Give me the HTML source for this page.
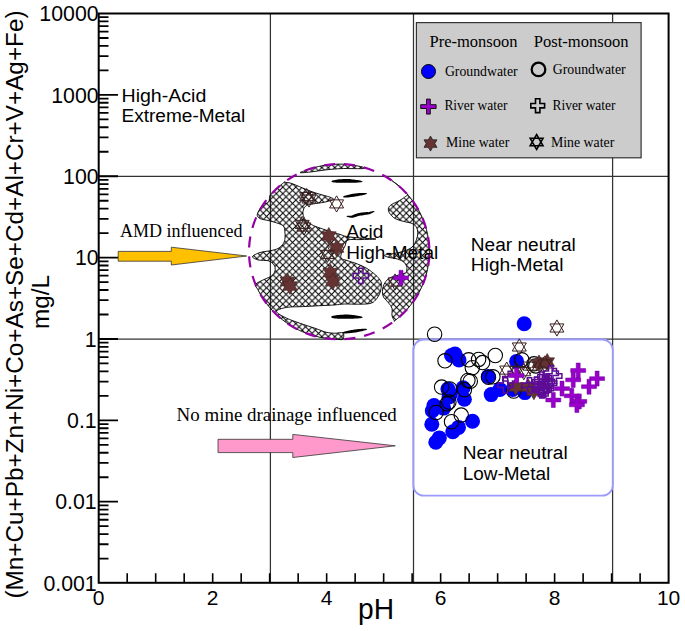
<!DOCTYPE html><html><head><meta charset="utf-8"><style>html,body{margin:0;padding:0;background:#fff;overflow:hidden}svg{display:block}</style></head><body>
<svg width="685" height="631" viewBox="0 0 685 631">
<defs><pattern id="hx" patternUnits="userSpaceOnUse" width="6.5" height="6.5" x="3.3" y="5.1"><path d="M-0.8,-0.8L7.3,7.3M7.3,-0.8L-0.8,7.3" stroke="#000" stroke-width="1.0" fill="none"/></pattern><path id="os" d="M0,-8.1L7.0,4.05L-7.0,4.05ZM0,8.1L7.0,-4.05L-7.0,-4.05Z" fill="none" stroke="#3a1f1f" stroke-width="1.0"/><path id="fs" d="M0,-8.5L2.45,-4.25L7.36,-4.25L4.9,0L7.36,4.25L2.45,4.25L0,8.5L-2.45,4.25L-7.36,4.25L-4.9,0L-7.36,-4.25L-2.45,-4.25Z" fill="#663333" stroke="#3d1f1f" stroke-width="0.6"/><path id="fc" d="M-2,-7.5H2V-1.9H7.5V1.9H2V7.5H-2V1.9H-7.5V-1.9H-2Z" fill="#9900cc" stroke="#6a0099" stroke-width="0.5"/><path id="oc" d="M-2.2,-7.6H2.2V-2.2H7.6V2.2H2.2V7.6H-2.2V2.2H-7.6V-2.2H-2.2Z" fill="none" stroke="#5e0c96" stroke-width="1.5"/><circle id="fb" r="7.5" fill="#0000ff"/><circle id="ob" r="7.2" fill="none" stroke="#000" stroke-width="1.1"/></defs>
<rect width="685" height="631" fill="#fff"/>
<line x1="270.4" y1="13.5" x2="270.4" y2="582.8" stroke="#333" stroke-width="1.25"/>
<line x1="413.5" y1="13.5" x2="413.5" y2="582.8" stroke="#333" stroke-width="1.25"/>
<line x1="612.6" y1="13.5" x2="612.6" y2="582.8" stroke="#333" stroke-width="1.25"/>
<line x1="98.7" y1="176.3" x2="668.6" y2="176.3" stroke="#333" stroke-width="1.25"/>
<line x1="98.7" y1="339.0" x2="668.6" y2="339.0" stroke="#333" stroke-width="1.25"/>
<path d="M285.0,182.2C286.0,182.5 288.2,182.4 291.1,183.3C294.0,184.2 298.5,186.3 302.2,187.8C305.9,189.3 309.6,190.9 313.3,192.2C317.0,193.5 321.6,194.7 324.4,195.5C327.2,196.3 328.5,196.5 330.0,197.2C331.5,197.9 334.4,198.7 333.5,199.5C332.6,200.3 327.8,201.5 324.4,202.2C321.0,202.9 316.3,203.3 313.3,203.9C310.3,204.5 308.3,204.5 306.6,205.5C304.9,206.5 303.9,208.3 303.3,210.0C302.8,211.7 302.8,213.7 303.3,215.5C303.9,217.3 304.9,219.3 306.6,221.0C308.3,222.7 310.7,224.2 313.3,225.5C315.9,226.8 319.6,227.9 322.2,228.8C324.8,229.7 325.8,230.1 328.8,231.0C331.8,231.9 337.0,233.5 340.0,234.4C343.0,235.3 343.3,235.9 346.6,236.5C349.9,237.1 355.1,237.6 360.0,238.0C364.9,238.4 376.0,238.7 376.0,239.0C376.0,239.3 364.7,239.4 360.0,239.6C355.3,239.8 350.5,238.9 348.0,240.0C345.5,241.1 346.0,244.0 345.0,246.0C344.0,248.0 342.7,250.0 342.0,252.0C341.3,254.0 340.2,256.6 341.0,258.0C341.8,259.4 344.2,259.5 347.0,260.5C349.8,261.5 354.2,262.7 357.5,264.0C360.8,265.3 364.0,266.7 367.0,268.5C370.0,270.3 373.4,273.1 375.6,275.0C377.8,276.9 379.0,278.5 380.0,280.0C381.0,281.5 381.4,282.1 381.4,284.2C381.4,286.3 381.0,290.2 380.0,292.8C379.0,295.4 377.3,298.2 375.6,300.0C373.9,301.8 372.9,302.8 370.0,303.5C367.1,304.2 362.8,304.1 358.5,304.2C354.2,304.3 348.2,303.9 344.3,304.0C340.4,304.1 339.1,304.6 335.0,304.9C330.9,305.2 325.2,305.4 319.9,305.7C314.6,306.0 308.8,306.3 303.2,306.6C297.6,306.9 291.0,306.6 286.6,307.4C282.2,308.2 276.6,309.7 276.6,311.5C276.6,313.3 282.7,316.2 286.6,318.2C290.5,320.1 295.2,321.5 299.9,323.2C304.6,324.9 310.5,326.7 314.9,328.2C319.3,329.7 323.1,331.5 326.5,332.3C329.9,333.1 332.2,333.1 335.0,333.2C337.8,333.3 341.7,332.0 343.0,333.0C344.3,334.0 343.9,338.2 343.0,339.2C342.1,340.3 339.3,339.3 337.4,339.3C335.6,339.2 333.7,339.2 331.9,339.0C330.1,338.9 328.2,338.7 326.4,338.4C324.5,338.2 322.7,337.8 320.9,337.5C319.1,337.1 317.3,336.7 315.5,336.2C313.7,335.8 312.0,335.2 310.2,334.6C308.4,334.1 306.7,333.4 305.0,332.8C303.3,332.1 301.6,331.3 299.9,330.6C298.3,329.8 296.6,328.9 295.0,328.1C293.4,327.2 291.8,326.3 290.3,325.3C288.7,324.3 287.2,323.3 285.7,322.2C284.2,321.1 282.7,320.0 281.3,318.9C279.9,317.7 278.5,316.5 277.2,315.3C275.8,314.1 274.5,312.8 273.3,311.5C272.0,310.2 270.8,308.8 269.6,307.4C268.4,306.0 267.3,304.6 266.2,303.1C265.1,301.7 264.1,300.2 263.1,298.7C262.1,297.2 261.1,295.6 260.2,294.1C259.3,292.5 258.5,290.9 257.7,289.3C256.9,287.6 254.3,286.0 255.5,284.3C256.7,282.6 262.3,280.5 265.0,279.1C267.7,277.7 269.9,277.2 271.6,275.8C273.3,274.4 274.6,272.6 275.0,270.8C275.4,269.0 275.2,266.7 274.1,265.0C273.0,263.3 270.9,261.6 268.3,260.8C265.7,260.0 260.9,260.7 258.3,260.0C255.7,259.3 252.2,257.9 252.5,256.6C252.8,255.4 257.1,253.5 260.0,252.5C262.9,251.5 266.9,251.5 270.0,250.8C273.1,250.1 276.1,249.6 278.3,248.3C280.6,247.1 282.4,245.0 283.5,243.3C284.6,241.6 284.8,240.0 285.0,238.0C285.2,236.0 285.1,233.2 284.8,231.3C284.6,229.4 284.6,227.6 283.5,226.3C282.4,225.0 281.0,224.4 278.5,223.5C276.0,222.6 271.6,221.4 268.5,220.6C265.4,219.8 261.9,219.6 260.0,218.5C258.1,217.4 256.8,216.4 257.3,214.2C257.8,211.9 260.9,207.0 262.8,205.0C264.7,203.0 267.3,203.6 268.5,202.1C269.7,200.6 269.3,197.2 269.8,195.8C270.2,194.4 270.9,194.5 271.4,193.9C272.0,193.2 272.6,192.6 273.2,192.0C273.8,191.4 274.4,190.8 275.0,190.2C275.6,189.6 276.2,189.0 276.9,188.4C277.5,187.8 278.1,187.2 278.8,186.6C279.4,186.1 280.1,185.5 280.8,185.0C281.4,184.4 282.1,183.9 282.8,183.4C283.5,182.8 284.5,182.0 284.8,181.8C285.2,181.6 284.0,181.9 285.0,182.2Z" fill="url(#hx)" stroke="#000" stroke-width="0.9" />
<path d="M392.5,181.0C392.9,181.3 394.3,182.4 395.2,183.1C396.1,183.7 397.0,184.5 397.9,185.2C398.8,185.9 399.7,186.7 400.5,187.4C401.3,188.2 402.2,189.0 403.0,189.8C403.8,190.6 404.6,191.4 405.4,192.2C406.2,193.0 407.7,194.0 407.7,194.7C407.8,195.4 407.1,195.4 405.7,196.4C404.3,197.4 401.6,199.4 399.3,200.7C397.0,202.0 393.9,203.0 392.1,204.2C390.3,205.4 389.1,206.4 388.6,207.8C388.1,209.2 388.2,211.0 389.3,212.8C390.4,214.6 392.6,217.1 395.0,218.5C397.4,219.9 400.6,220.6 403.5,221.4C406.4,222.2 410.0,222.6 412.1,223.5C414.2,224.4 415.4,225.5 416.4,227.1C417.3,228.7 417.8,230.7 417.8,232.8C417.8,234.9 417.3,237.5 416.4,239.9C415.4,242.3 414.2,245.1 412.1,247.0C410.0,248.9 406.6,250.2 403.5,251.3C400.4,252.4 396.7,252.8 393.5,253.5C390.3,254.2 385.1,254.6 384.4,255.3C383.6,256.0 387.1,256.9 389.0,257.5C390.9,258.1 393.7,257.9 396.0,258.6C398.3,259.3 401.2,260.2 403.0,261.5C404.8,262.8 406.0,264.6 406.6,266.2C407.2,267.8 406.8,269.8 406.6,270.9C406.4,272.0 407.0,272.1 405.6,272.8C404.2,273.5 401.1,274.2 398.5,275.0C395.9,275.8 392.3,276.5 390.0,277.8C387.7,279.1 386.1,280.8 384.9,282.8C383.6,284.8 382.7,287.6 382.5,290.0C382.3,292.4 382.5,294.9 383.5,297.0C384.5,299.1 387.1,300.9 388.5,302.8C389.9,304.7 391.4,306.4 392.0,308.5C392.6,310.6 391.6,313.6 392.0,315.6C392.4,317.6 393.8,319.7 394.2,320.6C394.6,321.5 393.5,321.6 394.2,321.1C394.9,320.6 397.1,318.9 398.5,317.7C399.9,316.5 401.3,315.3 402.6,314.0C403.9,312.7 405.2,311.4 406.4,310.1C407.7,308.7 408.9,307.4 410.0,305.9C411.2,304.5 412.3,303.1 413.3,301.6C414.4,300.1 415.4,298.6 416.4,297.0C417.3,295.5 418.3,293.9 419.1,292.3C420.0,290.7 420.8,289.1 421.5,287.5C422.3,285.8 423.0,284.1 423.7,282.5C424.3,280.8 424.9,279.1 425.5,277.3C426.0,275.6 426.5,273.9 426.9,272.1C427.4,270.4 427.7,268.6 428.0,266.8C428.4,265.0 428.6,263.2 428.8,261.4C429.0,259.7 429.2,257.9 429.3,256.1C429.4,254.3 429.4,252.4 429.4,250.6C429.4,248.8 429.3,247.0 429.2,245.2C429.0,243.4 428.8,241.6 428.6,239.9C428.3,238.1 428.0,236.3 427.6,234.5C427.3,232.7 426.9,231.0 426.4,229.2C425.9,227.5 425.4,225.8 424.8,224.1C424.2,222.3 423.6,220.6 422.9,219.0C422.2,217.3 421.4,215.6 420.6,214.0C419.8,212.4 419.0,210.8 418.1,209.2C417.2,207.6 416.2,206.1 415.2,204.6C414.2,203.0 413.2,201.5 412.1,200.1C411.0,198.6 409.8,197.2 408.7,195.8C407.5,194.4 406.2,193.1 405.0,191.8C403.7,190.4 402.4,189.2 401.0,187.9C399.7,186.7 398.3,185.5 396.9,184.3C395.4,183.2 393.2,181.6 392.5,181.0C391.7,180.5 392.0,180.7 392.5,181.0Z" fill="url(#hx)" stroke="#000" stroke-width="0.9" />
<path d="M300.2,172.7C299.2,172.5 304.1,171.0 306.1,170.2C308.1,169.5 310.1,168.8 312.1,168.1C314.2,167.5 316.3,167.0 318.4,166.5C320.4,166.0 322.6,165.6 324.7,165.2C326.8,164.9 328.9,164.6 331.1,164.5C333.2,164.3 335.4,164.2 337.5,164.1C339.6,164.1 341.8,164.1 343.9,164.2C346.1,164.3 348.2,164.5 350.4,164.8C352.5,165.0 354.6,165.4 356.7,165.8C358.8,166.2 362.0,166.7 363.0,167.2C364.0,167.7 365.0,168.4 363.0,168.6C361.0,168.8 354.7,168.6 351.0,168.6C347.3,168.6 345.1,168.4 341.0,168.6C336.9,168.8 331.4,169.3 326.5,169.8C321.6,170.3 316.3,171.3 311.9,171.8C307.5,172.3 301.1,173.0 300.2,172.7Z" fill="url(#hx)" stroke="#000" stroke-width="0.9" />
<path d="M331.20,181.40L332.55,182.21L333.88,182.46L335.20,182.62L336.53,182.73L337.85,182.80L339.17,182.85L340.49,182.87L341.81,182.87L343.13,182.85L344.44,182.82L345.76,182.76L346.91,182.70L348.23,182.73L349.54,182.76L350.86,182.76L352.18,182.76L353.50,182.74L354.83,182.70L356.15,182.65L357.47,182.58L358.80,182.49L360.12,182.37L361.45,182.19L362.80,181.60L362.80,181.60L361.52,180.88L360.21,180.56L358.91,180.31L357.60,180.08L356.29,179.88L354.98,179.70L353.67,179.53L352.36,179.38L351.04,179.24L349.73,179.11L348.42,179.00L347.10,178.90L345.61,178.93L344.30,178.98L342.98,179.05L341.67,179.13L340.35,179.23L339.04,179.35L337.72,179.50L336.41,179.67L335.10,179.88L333.79,180.14L332.48,180.49L331.20,181.40Z" fill="#000"/>
<path d="M342.80,197.00L343.92,197.48L344.98,197.54L346.02,197.53L347.06,197.49L348.10,197.42L349.13,197.33L350.16,197.22L351.18,197.10L352.21,196.96L353.23,196.81L354.25,196.65L355.21,196.48L356.23,196.33L357.25,196.17L358.27,196.00L359.29,195.81L360.30,195.62L361.32,195.41L362.33,195.19L363.34,194.95L364.35,194.69L365.35,194.41L366.35,194.07L367.30,193.40L367.30,193.40L366.21,192.99L365.16,192.92L364.11,192.91L363.07,192.92L362.04,192.95L361.00,192.99L359.97,193.05L358.94,193.12L357.91,193.20L356.88,193.29L355.85,193.39L354.83,193.51L353.76,193.68L352.74,193.85L351.73,194.03L350.71,194.23L349.70,194.44L348.69,194.67L347.69,194.91L346.68,195.18L345.69,195.47L344.69,195.79L343.71,196.19L342.80,197.00Z" fill="#000"/>
<path d="M346.30,216.30L347.47,217.01L348.66,217.33L349.87,217.59L351.08,217.82L352.78,217.79L353.95,217.44L355.12,217.08L356.29,216.70L357.45,216.31L358.35,216.00L359.56,215.81L360.76,215.61L361.97,215.40L363.17,215.17L364.26,214.97L365.47,214.82L366.69,214.67L367.90,214.50L369.39,214.26L370.51,213.76L371.63,213.25L372.73,212.71L373.82,212.12L374.80,211.20L374.80,211.20L373.46,211.08L372.24,211.28L371.04,211.54L369.84,211.82L368.65,212.13L367.71,212.09L366.48,212.12L365.26,212.16L364.04,212.21L362.71,212.38L361.50,212.56L360.29,212.75L359.08,212.95L357.88,213.16L356.47,213.65L355.34,214.10L354.20,214.57L353.08,215.05L351.96,215.54L351.27,215.63L350.04,215.65L348.81,215.69L347.57,215.80L346.30,216.30Z" fill="#000"/>
<path d="M330.90,317.10L332.26,318.01L333.61,318.30L334.95,318.49L336.29,318.62L337.62,318.72L338.96,318.78L340.30,318.82L341.63,318.83L342.97,318.83L344.30,318.80L345.64,318.76L346.97,318.70L348.15,318.72L349.48,318.73L350.82,318.72L352.15,318.70L353.49,318.66L354.83,318.61L356.17,318.54L357.51,318.45L358.85,318.33L360.19,318.18L361.54,317.97L362.90,317.30L362.90,317.30L361.60,316.52L360.28,316.18L358.95,315.92L357.63,315.68L356.30,315.48L354.98,315.29L353.65,315.12L352.32,314.96L350.99,314.82L349.66,314.70L348.33,314.59L346.84,314.50L345.50,314.53L344.17,314.57L342.84,314.63L341.51,314.70L340.17,314.80L338.84,314.92L337.51,315.07L336.18,315.24L334.85,315.46L333.53,315.73L332.20,316.10L330.90,317.10Z" fill="#000"/>
<path d="M341.90,332.90L343.05,333.37L344.14,333.43L345.22,333.44L346.30,333.41L347.37,333.35L348.44,333.28L349.51,333.19L350.57,333.09L351.64,332.97L352.70,332.84L353.76,332.70L354.82,332.54L355.87,332.38L356.93,332.20L357.98,332.01L359.03,331.81L360.08,331.59L361.13,331.37L362.18,331.13L363.22,330.87L364.26,330.59L365.30,330.28L366.32,329.92L367.30,329.20L367.30,329.20L366.16,328.79L365.07,328.74L363.99,328.74L362.91,328.77L361.84,328.82L360.77,328.89L359.70,328.97L358.63,329.07L357.57,329.18L356.51,329.30L355.44,329.43L354.39,329.57L353.33,329.73L352.27,329.89L351.22,330.07L350.16,330.26L349.11,330.46L348.06,330.68L347.01,330.91L345.97,331.16L344.93,331.44L343.89,331.75L342.87,332.13L341.90,332.90Z" fill="#000"/>
<ellipse cx="339.2" cy="251.7" rx="90.2" ry="87.6" fill="none" stroke="#9400a4" stroke-width="2.2" stroke-dasharray="11 9" stroke-dashoffset="16.9"/>
<rect x="413.3" y="339.5" width="199.5" height="156.2" rx="10.5" ry="10.5" fill="none" stroke="#9a9aff" stroke-width="1.8"/>
<rect x="98.7" y="13.5" width="569.9" height="569.3" fill="none" stroke="#000" stroke-width="2"/>
<path d="M98.7,558.60H108.5M98.7,544.27H108.5M98.7,534.10H108.5M98.7,526.21H108.5M98.7,519.77H108.5M98.7,514.32H108.5M98.7,509.61H108.5M98.7,505.44H108.5M98.7,501.72H118.0M98.7,477.23H108.5M98.7,462.90H108.5M98.7,452.73H108.5M98.7,444.84H108.5M98.7,438.40H108.5M98.7,432.95H108.5M98.7,428.24H108.5M98.7,424.07H108.5M98.7,420.35H118.0M98.7,395.86H108.5M98.7,381.53H108.5M98.7,371.36H108.5M98.7,363.47H108.5M98.7,357.03H108.5M98.7,351.58H108.5M98.7,346.87H108.5M98.7,342.70H108.5M98.7,338.98H118.0M98.7,314.49H108.5M98.7,300.16H108.5M98.7,289.99H108.5M98.7,282.10H108.5M98.7,275.66H108.5M98.7,270.21H108.5M98.7,265.50H108.5M98.7,261.33H108.5M98.7,257.61H118.0M98.7,233.12H108.5M98.7,218.79H108.5M98.7,208.62H108.5M98.7,200.73H108.5M98.7,194.29H108.5M98.7,188.84H108.5M98.7,184.13H108.5M98.7,179.96H108.5M98.7,176.24H118.0M98.7,151.75H108.5M98.7,137.42H108.5M98.7,127.25H108.5M98.7,119.36H108.5M98.7,112.92H108.5M98.7,107.47H108.5M98.7,102.76H108.5M98.7,98.59H108.5M98.7,94.87H118.0M98.7,70.38H108.5M98.7,56.05H108.5M98.7,45.88H108.5M98.7,37.99H108.5M98.7,31.55H108.5M98.7,26.10H108.5M98.7,21.39H108.5M98.7,17.22H108.5" stroke="#000" stroke-width="1.8" fill="none"/>
<path d="M127.19,582.8V573.3M155.69,582.8V573.3M184.19,582.8V573.3M212.68,582.8V573.3M241.18,582.8V573.3M269.67,582.8V573.3M298.16,582.8V573.3M326.66,582.8V573.3M355.15,582.8V573.3M383.65,582.8V573.3M412.14,582.8V573.3M440.64,582.8V573.3M469.13,582.8V573.3M497.63,582.8V573.3M526.12,582.8V573.3M554.62,582.8V573.3M583.12,582.8V573.3M611.61,582.8V573.3M640.11,582.8V573.3" stroke="#000" stroke-width="1.6" fill="none"/>
<text x="98.6" y="21.1" font-family="Liberation Sans" font-size="21.3" text-anchor="end">10000</text>
<text x="98.6" y="102.5" font-family="Liberation Sans" font-size="21.3" text-anchor="end">1000</text>
<text x="98.6" y="183.8" font-family="Liberation Sans" font-size="21.3" text-anchor="end">100</text>
<text x="98.6" y="265.2" font-family="Liberation Sans" font-size="21.3" text-anchor="end">10</text>
<text x="96.7" y="346.6" font-family="Liberation Sans" font-size="21.3" text-anchor="end">1</text>
<text x="96.7" y="428.0" font-family="Liberation Sans" font-size="21.3" text-anchor="end">0.1</text>
<text x="96.7" y="509.3" font-family="Liberation Sans" font-size="21.3" text-anchor="end">0.01</text>
<text x="96.7" y="590.7" font-family="Liberation Sans" font-size="21.3" text-anchor="end">0.001</text>
<text x="98.7" y="605" font-family="Liberation Sans" font-size="21" text-anchor="middle">0</text>
<text x="212.7" y="605" font-family="Liberation Sans" font-size="21" text-anchor="middle">2</text>
<text x="326.7" y="605" font-family="Liberation Sans" font-size="21" text-anchor="middle">4</text>
<text x="440.6" y="605" font-family="Liberation Sans" font-size="21" text-anchor="middle">6</text>
<text x="554.6" y="605" font-family="Liberation Sans" font-size="21" text-anchor="middle">8</text>
<text x="668.6" y="605" font-family="Liberation Sans" font-size="21" text-anchor="middle">10</text>
<text x="358" y="618.6" font-family="Liberation Sans" font-size="30" textLength="36" lengthAdjust="spacingAndGlyphs">pH</text>
<text transform="translate(23.1,304.5) rotate(-90)" font-family="Liberation Sans" font-size="23.5" text-anchor="middle" textLength="588" lengthAdjust="spacingAndGlyphs">(Mn+Cu+Pb+Zn+Ni+Co+As+Se+Cd+Al+Cr+V+Ag+Fe)</text>
<text transform="translate(48.8,302.1) rotate(-90)" font-family="Liberation Sans" font-size="23.5" text-anchor="middle" textLength="54" lengthAdjust="spacingAndGlyphs">mg/L</text>
<text x="121.5" y="101.5" font-family="Liberation Sans" font-size="18" textLength="84.8" lengthAdjust="spacingAndGlyphs">High-Acid</text>
<text x="121.5" y="122" font-family="Liberation Sans" font-size="18" textLength="123.8" lengthAdjust="spacingAndGlyphs">Extreme-Metal</text>
<text x="346.3" y="238" font-family="Liberation Sans" font-size="18" textLength="37" lengthAdjust="spacingAndGlyphs">Acid</text>
<text x="346.3" y="259" font-family="Liberation Sans" font-size="18" textLength="92" lengthAdjust="spacingAndGlyphs">High-Metal</text>
<text x="470.8" y="250.6" font-family="Liberation Sans" font-size="18" textLength="105" lengthAdjust="spacingAndGlyphs">Near neutral</text>
<text x="470.8" y="271.1" font-family="Liberation Sans" font-size="18" textLength="92.6" lengthAdjust="spacingAndGlyphs">High-Metal</text>
<text x="462.7" y="459.4" font-family="Liberation Sans" font-size="18" textLength="105" lengthAdjust="spacingAndGlyphs">Near neutral</text>
<text x="462.7" y="479.9" font-family="Liberation Sans" font-size="18" textLength="87.5" lengthAdjust="spacingAndGlyphs">Low-Metal</text>
<text x="120" y="236.9" font-family="Liberation Serif" font-size="18.5" textLength="122.6" lengthAdjust="spacingAndGlyphs">AMD influenced</text>
<text x="176.6" y="420.9" font-family="Liberation Serif" font-size="19" textLength="220.2" lengthAdjust="spacingAndGlyphs">No mine drainage influenced</text>
<path d="M118.2,251.4H171.3V247.2L246.7,256L171.3,265V261.2H118.2Z" fill="#ffc000" stroke="#333" stroke-width="0.8"/>
<path d="M218,439.3H292.8V434.4L395.3,445.8L292.8,457.5V452.6H218Z" fill="#ff99cc" stroke="#333" stroke-width="0.8"/>
<rect x="416.4" y="22.6" width="224.7" height="135.2" fill="#cccccc" stroke="#333" stroke-width="1.2"/>
<text x="429.5" y="47" font-family="Liberation Serif" font-size="16.5" textLength="88" lengthAdjust="spacingAndGlyphs">Pre-monsoon</text>
<text x="533.8" y="47" font-family="Liberation Serif" font-size="16.5" textLength="94.8" lengthAdjust="spacingAndGlyphs">Post-monsoon</text>
<text x="444.9" y="75.6" font-family="Liberation Serif" font-size="14" textLength="72.7" lengthAdjust="spacingAndGlyphs">Groundwater</text>
<text x="552.8" y="73.9" font-family="Liberation Serif" font-size="14" textLength="72.9" lengthAdjust="spacingAndGlyphs">Groundwater</text>
<text x="444.4" y="109.5" font-family="Liberation Serif" font-size="14" textLength="63" lengthAdjust="spacingAndGlyphs">River water</text>
<text x="552.5" y="110" font-family="Liberation Serif" font-size="14" textLength="63" lengthAdjust="spacingAndGlyphs">River water</text>
<text x="446.1" y="146.8" font-family="Liberation Serif" font-size="14" textLength="63.2" lengthAdjust="spacingAndGlyphs">Mine water</text>
<text x="550.9" y="146.8" font-family="Liberation Serif" font-size="14" textLength="63.4" lengthAdjust="spacingAndGlyphs">Mine water</text>
<circle cx="428.5" cy="71.5" r="7" fill="#0000ff" stroke="#000" stroke-width="1"/>
<circle cx="538.5" cy="69.4" r="6.8" fill="none" stroke="#000" stroke-width="2.3"/>
<path transform="translate(428.4,106.6)" d="M-1.9,-7.5H1.9V-1.9H7.7V1.9H1.9V7.5H-1.9V1.9H-7.7V-1.9H-1.9Z" fill="#9900cc" stroke="#111" stroke-width="1"/>
<path transform="translate(537.7,105.7)" d="M-2.2,-6.9H2.2V-2.2H6.9V2.2H2.2V6.9H-2.2V2.2H-6.9V-2.2H-2.2Z" fill="none" stroke="#000" stroke-width="1.6"/>
<path transform="translate(430.5,143.6)" d="M0,-7.5L2.2,-3.75L6.5,-3.75L4.3,0L6.5,3.75L2.2,3.75L0,7.5L-2.2,3.75L-6.5,3.75L-4.3,0L-6.5,-3.75L-2.2,-3.75Z" fill="#663333" stroke="#222" stroke-width="0.8"/>
<path transform="translate(536.6,142)" d="M0,-7.5L6.5,3.75L-6.5,3.75ZM0,7.5L6.5,-3.75L-6.5,-3.75Z" fill="none" stroke="#000" stroke-width="1.5"/>
<use href="#fb" x="524.2" y="323.8"/>
<use href="#fb" x="451.5" y="355.5"/>
<use href="#fb" x="455.0" y="354.0"/>
<use href="#fb" x="459.0" y="360.0"/>
<use href="#fb" x="488.3" y="376.5"/>
<use href="#fb" x="516.6" y="361.4"/>
<use href="#fb" x="447.9" y="389.0"/>
<use href="#fb" x="450.5" y="394.0"/>
<use href="#fb" x="463.1" y="387.8"/>
<use href="#fb" x="464.4" y="399.2"/>
<use href="#fb" x="449.0" y="397.0"/>
<use href="#fb" x="434.0" y="405.5"/>
<use href="#fb" x="443.6" y="408.1"/>
<use href="#fb" x="432.3" y="410.8"/>
<use href="#fb" x="431.8" y="424.3"/>
<use href="#fb" x="452.8" y="431.8"/>
<use href="#fb" x="458.5" y="427.4"/>
<use href="#fb" x="472.5" y="421.3"/>
<use href="#fb" x="439.3" y="437.9"/>
<use href="#fb" x="435.8" y="442.3"/>
<use href="#fb" x="491.2" y="394.6"/>
<use href="#fb" x="499.9" y="389.5"/>
<use href="#fb" x="512.7" y="389.5"/>
<use href="#fb" x="524.9" y="392.6"/>
<use href="#ob" x="434.6" y="334.2"/>
<use href="#ob" x="445.0" y="360.8"/>
<use href="#ob" x="468.7" y="359.8"/>
<use href="#ob" x="478.6" y="359.4"/>
<use href="#ob" x="482.6" y="362.6"/>
<use href="#ob" x="472.3" y="367.7"/>
<use href="#ob" x="495.3" y="355.5"/>
<use href="#ob" x="488.5" y="377.2"/>
<use href="#ob" x="492.9" y="376.8"/>
<use href="#ob" x="467.9" y="380.4"/>
<use href="#ob" x="470.3" y="381.2"/>
<use href="#ob" x="441.6" y="387.1"/>
<use href="#ob" x="449.8" y="389.0"/>
<use href="#ob" x="448.9" y="402.0"/>
<use href="#ob" x="447.1" y="403.8"/>
<use href="#ob" x="436.2" y="412.5"/>
<use href="#ob" x="451.5" y="421.7"/>
<use href="#ob" x="461.2" y="415.1"/>
<use href="#ob" x="464.4" y="389.7"/>
<use href="#ob" x="521.8" y="359.8"/>
<use href="#ob" x="534.0" y="363.8"/>
<use href="#ob" x="513.7" y="391.0"/>
<use href="#ob" x="535.8" y="365.9"/>
<use href="#fs" x="328.8" y="236.0"/>
<use href="#fs" x="336.6" y="248.0"/>
<use href="#fs" x="287.5" y="281.5"/>
<use href="#fs" x="290.0" y="286.0"/>
<use href="#fs" x="330.4" y="272.5"/>
<use href="#fs" x="332.8" y="281.5"/>
<use href="#fs" x="539.0" y="363.4"/>
<use href="#fs" x="547.2" y="362.1"/>
<use href="#fs" x="515.8" y="387.0"/>
<use href="#fs" x="528.0" y="386.9"/>
<use href="#fs" x="533.9" y="391.3"/>
<use href="#os" x="556.9" y="328.0"/>
<use href="#os" x="519.3" y="347.0"/>
<use href="#os" x="506.7" y="370.1"/>
<use href="#os" x="523.8" y="371.7"/>
<use href="#os" x="530.1" y="366.1"/>
<use href="#os" x="516.8" y="370.6"/>
<use href="#os" x="544.7" y="364.0"/>
<use href="#os" x="306.6" y="196.6"/>
<use href="#os" x="309.0" y="199.0"/>
<use href="#os" x="336.6" y="203.9"/>
<use href="#os" x="302.2" y="224.4"/>
<use href="#os" x="304.0" y="227.0"/>
<use href="#os" x="327.3" y="254.4"/>
<use href="#os" x="395.0" y="282.0"/>
<use href="#oc" x="360.8" y="275.8"/>
<use href="#oc" x="554.3" y="376.0"/>
<use href="#oc" x="541.9" y="379.6"/>
<use href="#oc" x="536.8" y="384.7"/>
<use href="#oc" x="545.5" y="386.2"/>
<use href="#oc" x="541.9" y="390.5"/>
<use href="#oc" x="549.2" y="383.2"/>
<use href="#oc" x="529.5" y="385.4"/>
<use href="#oc" x="505.5" y="385.4"/>
<use href="#oc" x="510.3" y="378.8"/>
<use href="#oc" x="540.0" y="382.0"/>
<use href="#oc" x="542.0" y="386.5"/>
<use href="#oc" x="545.0" y="384.0"/>
<use href="#oc" x="546.0" y="388.5"/>
<use href="#oc" x="543.5" y="390.0"/>
<use href="#oc" x="547.0" y="381.5"/>
<use href="#oc" x="540.5" y="389.0"/>
<use href="#oc" x="550.8" y="373.3"/>
<use href="#fc" x="401.0" y="277.8"/>
<use href="#fc" x="516.6" y="375.5"/>
<use href="#fc" x="578.2" y="370.5"/>
<use href="#fc" x="573.2" y="379.9"/>
<use href="#fc" x="597.1" y="378.6"/>
<use href="#fc" x="589.0" y="386.7"/>
<use href="#fc" x="562.0" y="388.6"/>
<use href="#fc" x="553.3" y="400.0"/>
<use href="#fc" x="571.8" y="395.8"/>
<use href="#fc" x="579.3" y="401.4"/>
<use href="#fc" x="576.9" y="404.9"/>
</svg></body></html>
